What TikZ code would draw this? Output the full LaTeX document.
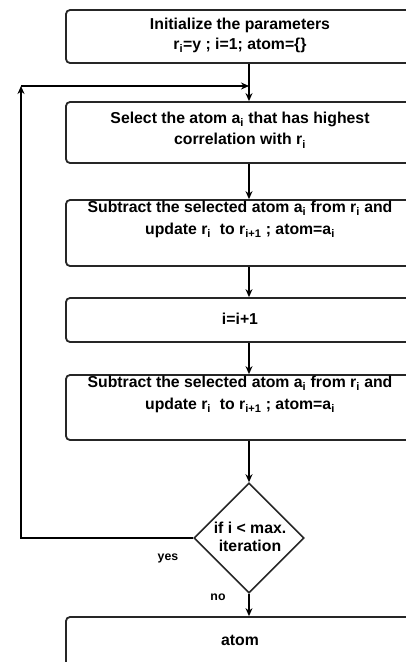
\documentclass[tikz,border=0pt]{standalone}
\usepackage{fontspec}
\setmainfont{Liberation Sans}
\usetikzlibrary{arrows.meta,shapes.geometric}
\newcommand{\sbs}[1]{\textsubscript{#1}}
\tikzset{
  flowbox/.style={draw=black!85, line width=1.8pt, rounded corners=4pt,
    minimum width=366pt, inner sep=0pt},
  flowtext/.style={font=\bfseries\fontsize{15.8}{21.5}\selectfont, align=center, inner sep=0pt},
  decision/.style={diamond, draw=black!85, line width=1.6pt, minimum width=110pt,
    minimum height=110pt, inner sep=0pt, aspect=1},
  flowarrow/.style={draw=black, line width=1.2pt, -{Stealth[length=8pt,width=7pt]}},
  flowline/.style={draw=black, line width=1.2pt},
  edgelabel/.style={font=\bfseries\fontsize{12.3}{14}\selectfont, inner sep=0pt}
}
\begin{document}
\begin{tikzpicture}[x=1pt,y=-1pt]
  \useasboundingbox (0,0) rectangle (406,662);
  \clip (0,0) rectangle (406,662);

  % process boxes (they run on past the right edge)
  \node[flowbox, minimum height=53pt] (init)  at (249,36.5) {};
  \node[flowbox, minimum height=61pt] (sel)   at (249,132.5) {};
  \node[flowbox, minimum height=66pt] (sub1)  at (249,233) {};
  \node[flowbox, minimum height=44pt] (inc)   at (249,320) {};
  \node[flowbox, minimum height=65pt] (sub2)  at (249,407.5) {};
  \node[decision] (test) at (249,538) {};
  \node[flowbox, minimum height=60pt] (out)   at (249,647) {};

  % box texts
  \node[flowtext, font=\bfseries\fontsize{15.8}{19.5}\selectfont] (tinit) at (240,35.5) {Initialize the parameters\\r\sbs{i}=y ; i=1; atom=\{\}};
  \node[flowtext] (tsel)  at (240,130) {Select the atom a\sbs{i} that has highest\\correlation with r\sbs{i}};
  \node[flowtext] (tsub1) at (240,219.5) {Subtract the selected atom a\sbs{i} from r\sbs{i} and\\update r\sbs{i}\ \ to r\sbs{i+1} ; atom=a\sbs{i}};
  \node[flowtext] (tinc)  at (240,319) {i=i+1};
  \node[flowtext] (tsub2) at (240,394.5) {Subtract the selected atom a\sbs{i} from r\sbs{i} and\\update r\sbs{i}\ \ to r\sbs{i+1} ; atom=a\sbs{i}};
  \node[flowtext, font=\bfseries\fontsize{15.8}{18.5}\selectfont] (ttest) at (250,537) {if i < max.\\iteration};
  \node[flowtext] (tout)  at (240,640) {atom};

  % edge labels
  \node[edgelabel] (lyes) at (168,558) {yes};
  \node[edgelabel] (lno)  at (218,597) {no};

  % main flow
  \coordinate (merge) at (249,86);
  \coordinate (loopbot) at (21,538);
  \coordinate (looptop) at (21,86);
  \draw[flowline] (init.south) -- (merge);
  \draw[flowarrow] (merge) -- (sel.north);
  \draw[flowarrow] (sel.south) -- (sub1.north);
  \draw[flowarrow] (sub1.south) -- (inc.north);
  \draw[flowarrow] (inc.south) -- (sub2.north);
  \draw[flowarrow] (sub2.south) -- (test.north);
  \draw[flowarrow] (test.south) -- (out.north);

  % loop back on "yes"
  \draw[flowarrow] (test.west) -- (loopbot) -- (looptop);
  \draw[flowarrow] (looptop) -- (merge);
\end{tikzpicture}
\end{document}
